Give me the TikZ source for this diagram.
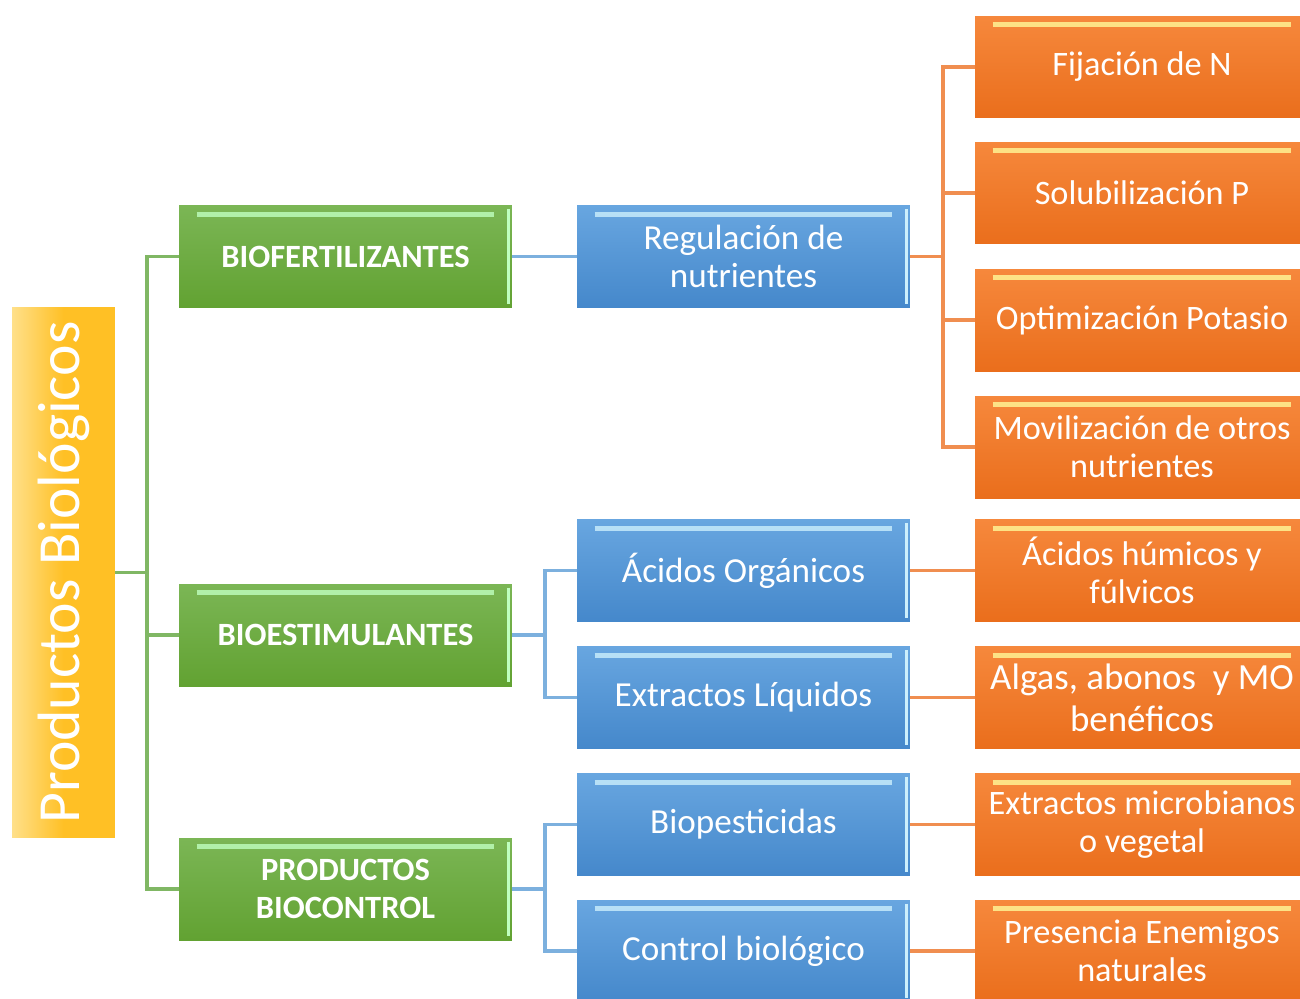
\documentclass[tikz,border=0pt]{standalone}
\usepackage{fontspec}
\setmainfont{Carlito}
\usetikzlibrary{positioning,calc}

\definecolor{verdeA}{HTML}{7BB655}
\definecolor{verdeB}{HTML}{62A232}
\definecolor{azulA}{HTML}{68A6E0}
\definecolor{azulB}{HTML}{4588CB}
\definecolor{naranjaA}{HTML}{F6883C}
\definecolor{naranjaB}{HTML}{EA6E1C}
\definecolor{amarilloA}{HTML}{FFCB3C}
\definecolor{amarilloB}{HTML}{FFC025}
\definecolor{lineaverde}{HTML}{80B764}
\definecolor{lineaazul}{HTML}{7CB0DE}
\definecolor{lineanaranja}{HTML}{F08E50}

\tikzset{
  box/.style={rectangle, text=white, align=center, inner sep=2pt,
    minimum height=2.04cm, minimum width=6.66cm},
  bevel/.style={path picture={
    \draw[line width=3pt, #1, opacity=0.8]
      ([xshift=10pt,yshift=-5pt]path picture bounding box.north west) --
      ([xshift=-10pt,yshift=-5pt]path picture bounding box.north east);
    \draw[line width=1.5pt, #1]
      ([xshift=-2pt,yshift=-2pt]path picture bounding box.north east) --
      ([xshift=-2pt,yshift=2pt]path picture bounding box.south east);}},
  gbox/.style={box, top color=verdeA, bottom color=verdeB, bevel=green!25!white,
    font=\bfseries\fontsize{18.5}{21.5}\selectfont},
  bbox/.style={box, top color=azulA, bottom color=azulB, bevel=cyan!20!white,
    font=\fontsize{20}{21.5}\selectfont},
  obox/.style={box, minimum width=6.68cm, top color=naranjaA, bottom color=naranjaB,
    bevel=yellow!40!white, font=\fontsize{19.5}{21.5}\selectfont},
  glink/.style={lineaverde, line width=2.2pt},
  blink/.style={lineaazul, line width=2.2pt},
  olink/.style={lineanaranja, line width=2.2pt}
}

\begin{document}
\begin{tikzpicture}[x=0.02cm, y=-0.02cm]
\useasboundingbox (0,0) rectangle (1300,998);
\clip (0,0) rectangle (1300,998);

% raiz
\node[box, rotate=90, minimum width=10.62cm, minimum height=2.06cm,
  left color=amarilloA!60!white, right color=amarilloB, middle color=amarilloB,
  font=\fontsize{34}{38}\selectfont]
  (root) at (63.5,572.5) {Productos Biológicos};

% primer nivel
\node[gbox] (bf) at (345.5,256.5) {BIOFERTILIZANTES};
\node[gbox] (be) at (345.5,635) {BIOESTIMULANTES};
\node[gbox] (bc) at (345.5,889) {PRODUCTOS\\BIOCONTROL};

% segundo nivel
\node[bbox] (reg) at (743.5,256.5) {Regulación de\\nutrientes};
\node[bbox] (aci) at (743.5,570.5) {Ácidos Orgánicos};
\node[bbox] (ext) at (743.5,697.5) {Extractos Líquidos};
\node[bbox] (biop) at (743.5,824.5) {Biopesticidas};
\node[bbox] (ctrl) at (743.5,951) {Control biológico};

% tercer nivel
\node[obox] (fij) at (1142,67) {Fijación de N};
\node[obox] (sol) at (1142,193) {Solubilización P};
\node[obox] (opt) at (1142,320) {Optimización Potasio};
\node[obox] (mov) at (1142,447) {Movilización de otros\\nutrientes};
\node[obox] (hum) at (1142,570.5) {Ácidos húmicos y\\fúlvicos};
\node[obox, font=\fontsize{21}{24}\selectfont] (alg) at (1142,697.5) {Algas, abonos~ y MO\\benéficos};
\node[obox] (emi) at (1142,824.5) {Extractos microbianos\\o vegetal};
\node[obox] (pre) at (1142,951) {Presencia Enemigos\\naturales};

% conectores
\draw[glink] (root.south) -- ++(32,0) coordinate (g0);
\foreach \n in {bf,be,bc}
  \draw[glink] (g0) |- (\n.west);

\draw[blink] (bf.east) -- (reg.west);
\draw[blink] (be.east) -- ++(33,0) coordinate (b1);
\foreach \n in {aci,ext}
  \draw[blink] (b1) |- (\n.west);
\draw[blink] (bc.east) -- ++(33,0) coordinate (b2);
\foreach \n in {biop,ctrl}
  \draw[blink] (b2) |- (\n.west);

\draw[olink] (reg.east) -- ++(33,0) coordinate (o0);
\foreach \n in {fij,sol,opt,mov}
  \draw[olink] (o0) |- (\n.west);
\foreach \a/\b in {aci/hum, ext/alg, biop/emi, ctrl/pre}
  \draw[olink] (\a.east) -- (\b.west);
\end{tikzpicture}
\end{document}
